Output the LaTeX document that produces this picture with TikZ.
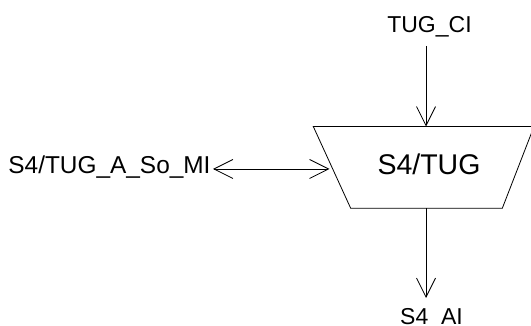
\documentclass[tikz,border=0pt]{standalone}
\usepackage{fontspec}
\setmainfont{Liberation Sans}
\usetikzlibrary{arrows.meta}
\begin{document}
\begin{tikzpicture}[x=1pt,y=-1pt,
  lbl/.style={inner sep=0pt,font=\fontsize{23}{27}\selectfont},
  biglbl/.style={inner sep=0pt,font=\fontsize{24.4}{28}\selectfont},
  big/.style={inner sep=0pt,font=\fontsize{28.5}{33}\selectfont},
  wire/.style={line width=0.8pt,draw=black},
  tip/.style={-{Straight Barb[length=19pt,width=19pt,line width=0.8pt]}},
  tips/.style={{Straight Barb[length=19pt,width=19pt,line width=0.8pt]}-{Straight Barb[length=19pt,width=19pt,line width=0.8pt]}}]
\useasboundingbox (0,0) rectangle (531,326);
% block outline
\coordinate (tl) at (313.3,126.5);
\coordinate (tr) at (534,126.5);
\coordinate (br) at (502.3,208.3);
\coordinate (bl) at (350.7,208.3);
\draw[wire] (tl) -- (tr) -- (br) -- (bl) -- cycle;
\node[big,anchor=base] (blk) at (429,175) {S4/TUG};
% labels
\node[lbl,anchor=base] (ci) at (429.5,32.7) {TUG\_CI};
\node[lbl,anchor=base] (ai) at (431.5,325) {S4\_AI};
\node[biglbl,anchor=base east] (mi) at (210.7,173.3) {S4/TUG\_A\_So\_MI};
% connector ends
\coordinate (ciend) at (426,46);
\coordinate (blktop) at (426,126.5);
\coordinate (blkbot) at (426,208.3);
\coordinate (aiend) at (426,298);
\coordinate (miend) at (213,169);
\coordinate (blkleft) at (329.5,169);
\draw[wire,tip] (ciend) -- (blktop);
\draw[wire,tip] (blkbot) -- (aiend);
\draw[wire,tips] (miend) -- (blkleft);
\end{tikzpicture}
\end{document}
